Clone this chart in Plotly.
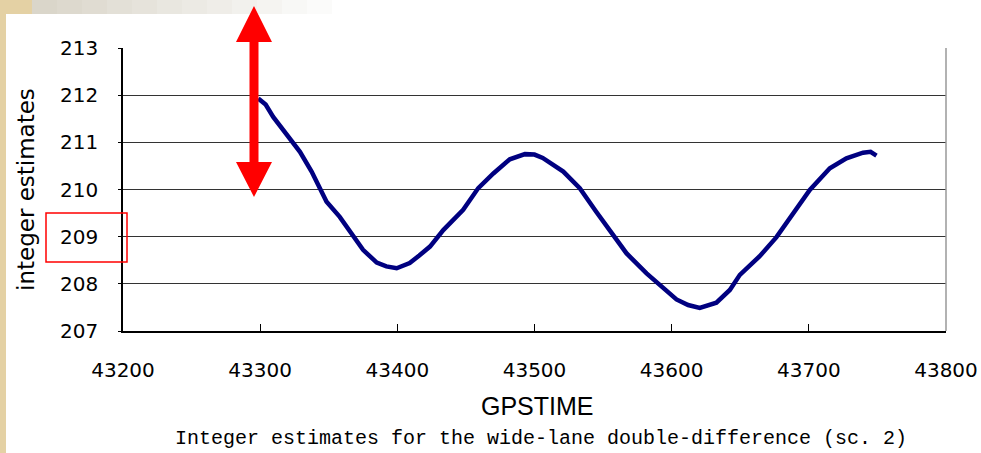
import plotly.graph_objects as go

# GPSTIME [s] と整数推定値
gps_time = [43298.6, 43304.0, 43309.5, 43315.7, 43322.0, 43329.0, 43337.5, 43348.4, 43358.0,
            43367.9, 43375.0, 43385.0, 43392.0, 43399.5, 43409.0, 43416.0, 43423.8, 43433.5,
            43448.0, 43459.0, 43470.0, 43482.0, 43493.0, 43500.0, 43506.0, 43521.0, 43533.0,
            43545.0, 43557.0, 43567.0, 43581.7, 43593.8, 43603.5, 43612.0, 43620.5, 43632.6,
            43642.4, 43649.7, 43664.0, 43676.4, 43688.5, 43700.7, 43715.3, 43727.4, 43739.5,
            43745.0, 43749.3]
estimates = [211.93, 211.80, 211.54, 211.30, 211.06, 210.80, 210.38, 209.74, 209.42,
             209.00, 208.72, 208.45, 208.37, 208.33, 208.44, 208.60, 208.79, 209.14,
             209.57, 210.03, 210.34, 210.64, 210.75, 210.74, 210.67, 210.38, 210.03,
             209.53, 209.07, 208.65, 208.22, 207.91, 207.67, 207.55, 207.49, 207.60,
             207.87, 208.19, 208.58, 208.99, 209.50, 209.99, 210.45, 210.66, 210.78,
             210.80, 210.72]

x_ticks = [43200, 43300, 43400, 43500, 43600, 43700, 43800]
y_ticks = [207, 208, 209, 210, 211, 212, 213]

W, H = 981, 453
L, R, T, B = 123, 35, 48, 122


def px(x):
    return (x - L) / (W - L - R)


def py(y):
    return (H - B - y) / (H - T - B)


fig = go.Figure()
fig.add_trace(go.Scatter(
    x=gps_time, y=estimates, mode="lines",
    line=dict(color="#000080", width=4.5),
    showlegend=False, hoverinfo="skip",
))

shapes = []
# 背景（左端と上端の模様）
shapes.append(dict(type="rect", xref="paper", yref="paper", x0=px(0), x1=px(6), y0=py(H), y1=py(0),
                   fillcolor="#e4d1a4", line=dict(width=0), layer="below"))
shapes.append(dict(type="rect", xref="paper", yref="paper", x0=px(0), x1=px(32), y0=py(14), y1=py(0),
                   fillcolor="#e4d1a4", line=dict(width=0), layer="below"))
steps = 12
for i in range(steps):
    f = i / steps
    c = [int(a + (255 - a) * f) for a in (218, 214, 202)]
    shapes.append(dict(type="rect", xref="paper", yref="paper",
                       x0=px(32 + i * 25), x1=px(32 + (i + 1) * 25), y0=py(14), y1=py(0),
                       fillcolor="rgb(%d,%d,%d)" % tuple(c), line=dict(width=0), layer="below"))

# 右枠（灰色）
shapes.append(dict(type="line", xref="paper", yref="paper", x0=1, x1=1, y0=0, y1=1,
                   line=dict(color="#999999", width=1.5)))

# 赤い矢印（上下）
pts = [(254, 6), (272, 42), (258.5, 42), (258.5, 162), (272, 162), (254, 197),
       (236, 162), (249.5, 162), (249.5, 42), (236, 42)]
path = "M " + " L ".join("%.5f %.5f" % (px(a), py(b)) for a, b in pts) + " Z"
shapes.append(dict(type="path", xref="paper", yref="paper", path=path,
                   fillcolor="#ff0000", line=dict(width=0)))

# 209 を囲む赤枠
shapes.append(dict(type="rect", xref="paper", yref="paper", x0=px(46), x1=px(127), y0=py(262), y1=py(213),
                   line=dict(color="#ff0000", width=1.5)))

annotations = [
    dict(text="integer estimates", xref="paper", yref="paper", x=px(26), y=py(190),
         xanchor="center", yanchor="middle",
         textangle=-90, showarrow=False, font=dict(family="DejaVu Sans", size=23, color="#000000")),
    dict(text="GPSTIME", xref="paper", yref="paper", x=px(537), y=py(406),
         xanchor="center", yanchor="middle",
         showarrow=False, font=dict(family="Liberation Sans", size=25, color="#000000")),
    dict(text="Integer estimates for the wide-lane double-difference (sc. 2)",
         xref="paper", yref="paper", x=px(541), y=py(438),
         xanchor="center", yanchor="middle",
         showarrow=False, font=dict(family="Liberation Mono", size=20, color="#000000")),
]

fig.update_layout(
    width=W, height=H,
    margin=dict(l=L, r=R, t=T, b=B),
    paper_bgcolor="white", plot_bgcolor="white",
    shapes=shapes, annotations=annotations,
    xaxis=dict(
        range=[43200, 43800], tickvals=x_ticks, tickformat="d", ticks="inside", ticklen=7,
        tickcolor="#000000", showgrid=False, zeroline=False, showline=True,
        linecolor="#000000", linewidth=1.5, automargin=False,
        ticklabelstandoff=20, tickfont=dict(family="DejaVu Sans", size=20, color="#000000"),
    ),
    yaxis=dict(
        range=[207, 213], tickvals=y_ticks, ticks="outside", ticklen=3, tickcolor="#000000",
        showgrid=True, gridcolor="#333333", gridwidth=1, zeroline=False,
        showline=True, linecolor="#000000", linewidth=1.5, automargin=False,
        ticklabelstandoff=16, tickfont=dict(family="DejaVu Sans", size=20, color="#000000"),
    ),
)

# ページ余白をなくす
fig.write_html("out.html", config={"displayModeBar": False},
               post_script="document.body.style.margin='0';")
